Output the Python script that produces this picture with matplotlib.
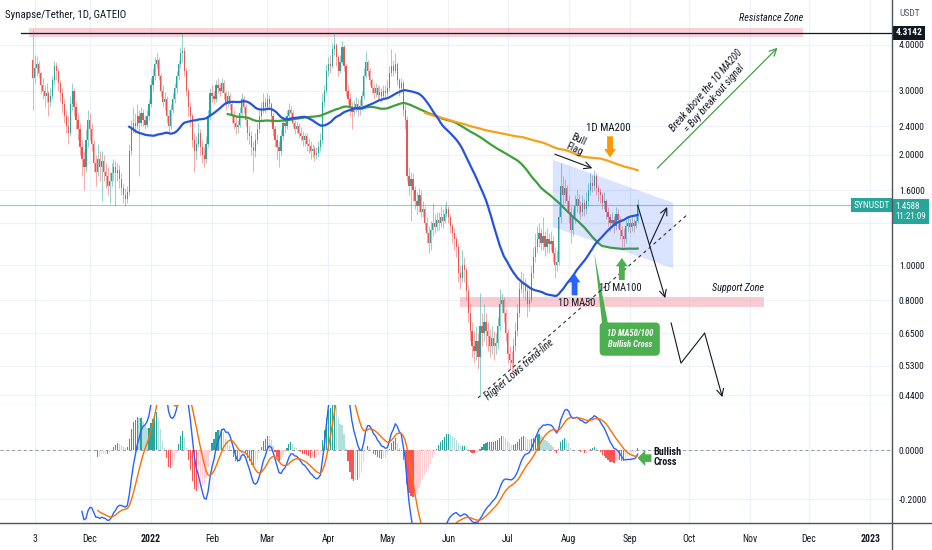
import numpy as np
import pandas as pd
import matplotlib
matplotlib.use('Agg')
import matplotlib.pyplot as plt
import matplotlib.dates as mdates
from matplotlib.patches import Rectangle, Polygon
from matplotlib.ticker import NullLocator, FixedLocator, FixedFormatter
import matplotlib.transforms as mtransforms
from matplotlib.lines import Line2D
from matplotlib import font_manager as fm

_names = {f.name for f in fm.fontManager.ttflist}
_fam = [n for n in ['Roboto Condensed', 'Liberation Sans Narrow', 'Open Sans Condensed', 'Liberation Sans', 'DejaVu Sans'] if n in _names]
plt.rcParams['font.family'] = _fam if _fam else ['DejaVu Sans']

# ---------------- data ----------------
start_date = '2021-11-02'
first_open = 3.64
closes = [
    3.25, 3.45, 3.55, 3.35, 3.10, 3.00, 2.90, 2.95, 2.80, 2.90,
    3.20, 3.50, 3.40, 3.15, 2.95, 2.75, 2.55, 2.40, 2.30, 2.75,
    3.00, 2.70, 2.50, 2.35, 2.10, 1.95, 1.85, 2.20, 2.50, 2.35,
    2.15, 1.90, 1.80, 1.95, 1.85, 1.92, 1.80, 1.75, 1.65, 1.70,
    1.78,
    1.85, 1.78, 1.82, 1.72, 1.62, 1.55, 1.52, 1.58, 2.05, 2.35,
    2.45, 2.40, 2.55, 2.45, 2.60, 2.50, 2.42, 2.55, 2.75, 3.10,
    3.30, 3.55, 3.65, 3.30, 3.00, 2.80, 2.85, 2.55, 2.40, 2.65,
    2.85, 3.05, 3.30, 3.55, 3.80, 3.85, 3.40, 3.00, 2.70, 2.55,
    2.20, 2.05, 2.15, 2.30, 2.10, 2.00, 1.95, 2.15, 2.55, 2.95,
    2.90,
    2.85, 3.10, 3.05, 3.00, 3.15, 2.95, 2.75, 2.90, 2.75, 2.55,
    2.45, 2.38, 2.42, 2.60, 2.85, 2.70, 2.50, 2.30, 2.25, 2.10,
    2.05, 2.20, 2.35, 2.55, 2.65, 2.80, 2.70, 2.85, 2.75, 2.55,
    2.35, 2.20, 2.10, 2.05, 2.25, 2.45, 2.40, 2.55, 2.65, 2.60,
    2.45, 2.35, 2.40, 2.30, 2.25, 2.20, 2.25, 2.15, 2.12, 2.05,
    2.08,
    2.00, 2.02, 2.10, 2.20, 2.80, 3.00, 3.40, 3.55, 3.50, 3.90,
    4.00, 3.70, 3.40, 3.60, 3.95, 3.50, 3.00, 2.85, 2.70, 2.62,
    2.70, 2.75, 2.65, 2.72, 2.90, 3.30, 3.60, 3.40, 3.20, 3.05,
    2.95, 3.05, 2.92, 2.98, 2.90, 3.00, 2.95, 3.05, 3.35, 3.50,
    3.40, 3.55, 3.20, 3.05, 3.15, 2.65, 2.50, 1.75, 1.65, 1.72,
    1.60,
    1.50, 1.45, 1.55, 1.40, 1.42, 1.30, 1.22, 1.15, 1.25, 1.30,
    1.27, 1.33, 1.30, 1.35, 1.32, 1.38, 1.42, 1.35, 1.28, 1.22,
    1.18, 1.12, 0.95, 0.92, 1.00, 0.97, 0.85, 0.74, 0.66, 0.60,
    0.58, 0.62, 0.56, 0.68, 0.65, 0.70, 0.66, 0.64, 0.60, 0.63,
    0.60,
    0.61, 0.68, 0.78, 0.80, 0.74, 0.65, 0.57, 0.55, 0.54, 0.60,
    0.66, 0.74, 0.86, 0.90, 0.88, 0.85, 0.78, 0.80, 0.95, 1.05,
    1.12, 1.18, 1.22, 1.15, 1.20, 1.12, 1.18, 1.14, 1.16, 1.08,
    1.00, 1.02, 1.35, 1.65, 1.55, 1.62, 1.50, 1.40, 1.25, 1.35,
    1.45,
    1.52, 1.45, 1.40, 1.48, 1.42, 1.50, 1.60, 1.68, 1.65, 1.75,
    1.62, 1.58, 1.55, 1.48, 1.50, 1.40, 1.35, 1.30, 1.33, 1.28,
    1.38, 1.33, 1.25, 1.20, 1.18, 1.28, 1.30, 1.27, 1.30, 1.28,
    1.32, 1.4588,
]
highs = [
    4.40, 3.75, 3.72, 3.62, 3.40, 3.25, 3.10, 3.15, 3.00, 3.05,
    3.30, 3.62, 3.60, 3.45, 3.20, 3.05, 2.85, 2.65, 2.55, 2.90,
    3.15, 3.05, 2.80, 2.60, 2.45, 2.20, 2.05, 2.35, 2.65, 2.60,
    2.45, 2.20, 2.00, 2.15, 2.05, 2.05, 2.00, 1.90, 1.85, 1.80,
    1.90,
    1.95, 1.92, 1.90, 1.88, 1.78, 1.68, 1.62, 1.65, 2.15, 2.50,
    2.70, 2.60, 2.75, 2.65, 2.70, 2.68, 2.58, 2.65, 2.85, 3.25,
    3.45, 3.70, 3.80, 3.70, 3.35, 3.10, 2.98, 2.90, 2.65, 2.75,
    2.95, 3.15, 3.40, 3.65, 3.95, 4.31, 3.95, 3.45, 3.05, 2.80,
    2.60, 2.30, 2.25, 2.45, 2.35, 2.20, 2.10, 2.25, 2.65, 3.05,
    3.10,
    3.00, 3.20, 3.25, 3.15, 3.25, 3.20, 3.00, 3.00, 2.95, 2.80,
    2.65, 2.55, 2.50, 2.70, 2.95, 2.90, 2.75, 2.55, 2.40, 2.32,
    2.18, 2.30, 2.45, 2.65, 2.80, 2.95, 2.88, 2.95, 2.92, 2.80,
    2.60, 2.40, 2.28, 2.18, 2.35, 2.55, 2.55, 2.65, 2.78, 2.72,
    2.65, 2.50, 2.48, 2.45, 2.38, 2.32, 2.30, 2.30, 2.22, 2.18,
    2.15,
    2.12, 2.10, 2.18, 2.30, 2.95, 3.10, 3.55, 3.70, 3.75, 4.05,
    4.35, 4.05, 3.75, 3.75, 4.10, 4.00, 3.55, 3.10, 2.95, 2.80,
    2.82, 2.88, 2.85, 2.85, 3.00, 3.45, 3.85, 3.65, 3.45, 3.25,
    3.12, 3.15, 3.10, 3.08, 3.05, 3.10, 3.10, 3.20, 3.50, 3.90,
    3.65, 3.80, 3.60, 3.25, 3.25, 3.20, 2.75, 2.55, 1.85, 1.80,
    1.78,
    1.65, 1.58, 1.62, 1.60, 1.50, 1.45, 1.35, 1.28, 1.32, 1.48,
    1.38, 1.40, 1.40, 1.45, 1.42, 1.45, 1.50, 1.45, 1.38, 1.30,
    1.26, 1.20, 1.15, 1.00, 1.10, 1.05, 0.99, 0.88, 0.78, 0.70,
    0.66, 0.68, 0.65, 0.84, 0.74, 0.78, 0.74, 0.70, 0.67, 0.68,
    0.66,
    0.65, 0.72, 0.86, 0.84, 0.82, 0.76, 0.67, 0.60, 0.58, 0.63,
    0.70, 0.78, 0.90, 0.96, 0.95, 0.92, 0.88, 0.86, 1.00, 1.12,
    1.22, 1.28, 1.30, 1.26, 1.35, 1.24, 1.26, 1.22, 1.24, 1.20,
    1.12, 1.10, 1.45, 1.90, 1.75, 1.72, 1.66, 1.55, 1.45, 1.42,
    1.55,
    1.60, 1.56, 1.50, 1.55, 1.52, 1.58, 1.68, 1.78, 1.76, 1.82,
    1.78, 1.66, 1.62, 1.58, 1.58, 1.52, 1.44, 1.38, 1.40, 1.36,
    1.44, 1.42, 1.36, 1.28, 1.26, 1.33, 1.36, 1.34, 1.35, 1.34,
    1.38, 1.52,
]
lows = [
    2.66, 3.15, 3.30, 3.25, 2.95, 2.85, 2.70, 2.80, 2.55, 2.70,
    2.85, 3.10, 3.20, 3.00, 2.80, 2.60, 2.45, 2.30, 2.15, 2.25,
    2.65, 2.55, 2.35, 2.20, 2.00, 1.75, 1.60, 1.80, 2.10, 2.20,
    2.05, 1.80, 1.65, 1.75, 1.70, 1.50, 1.70, 1.62, 1.55, 1.48,
    1.65,
    1.70, 1.45, 1.70, 1.62, 1.55, 1.48, 1.45, 1.48, 1.55, 2.00,
    2.30, 2.30, 2.35, 1.75, 2.40, 2.40, 2.35, 2.38, 2.50, 2.70,
    3.00, 3.20, 3.45, 3.20, 2.90, 2.70, 2.65, 2.45, 2.30, 2.35,
    2.60, 2.78, 2.95, 3.20, 3.45, 3.60, 3.30, 2.90, 2.55, 2.40,
    2.10, 1.80, 1.95, 2.10, 2.00, 1.90, 1.85, 1.90, 2.10, 2.50,
    2.80,
    2.75, 2.80, 2.95, 2.90, 2.95, 2.85, 2.65, 2.70, 2.65, 2.45,
    2.35, 2.28, 2.30, 2.38, 2.55, 2.60, 2.40, 2.20, 2.15, 2.00,
    1.80, 1.98, 2.15, 2.30, 2.50, 2.60, 2.60, 2.65, 2.65, 2.45,
    2.25, 2.10, 1.95, 1.85, 2.00, 2.20, 2.30, 2.35, 2.50, 2.50,
    2.38, 2.28, 2.30, 2.22, 2.18, 2.12, 2.12, 2.05, 2.02, 1.95,
    1.98,
    1.92, 1.95, 1.98, 2.05, 2.15, 2.70, 2.95, 3.30, 3.35, 3.45,
    3.75, 3.50, 3.30, 3.35, 3.55, 3.40, 2.90, 2.75, 2.55, 2.35,
    2.55, 2.62, 2.55, 2.58, 2.65, 2.85, 3.25, 3.30, 3.10, 2.95,
    2.85, 2.88, 2.85, 2.85, 2.80, 2.85, 2.88, 2.90, 3.00, 3.30,
    3.30, 3.35, 3.10, 2.90, 2.95, 2.55, 2.35, 1.70, 1.55, 1.32,
    1.50,
    1.42, 1.38, 1.40, 1.35, 1.35, 1.25, 1.15, 1.08, 1.10, 1.20,
    1.22, 1.24, 1.25, 1.27, 1.26, 1.30, 1.35, 1.30, 1.22, 1.15,
    1.10, 1.05, 0.90, 0.86, 0.90, 0.90, 0.80, 0.70, 0.62, 0.56,
    0.54, 0.55, 0.52, 0.44, 0.60, 0.62, 0.60, 0.58, 0.56, 0.57,
    0.55,
    0.57, 0.59, 0.66, 0.74, 0.70, 0.62, 0.54, 0.52, 0.505, 0.52,
    0.58, 0.64, 0.72, 0.84, 0.82, 0.80, 0.72, 0.75, 0.79, 0.92,
    1.02, 1.08, 1.12, 1.10, 1.10, 1.06, 1.08, 1.08, 1.10, 1.02,
    0.92, 0.96, 1.00, 1.30, 1.45, 1.48, 1.42, 1.30, 1.15, 1.20,
    1.30,
    1.40, 1.38, 1.34, 1.36, 1.36, 1.38, 1.45, 1.55, 1.58, 1.60,
    1.55, 1.50, 1.48, 1.42, 1.42, 1.34, 1.28, 1.24, 1.26, 1.22,
    1.25, 1.26, 1.18, 1.12, 1.12, 1.15, 1.24, 1.22, 1.24, 1.23,
    1.26, 1.30,
]

price_ticks = [4.0, 3.0, 2.4, 2.0, 1.6, 1.3, 1.0, 0.8, 0.65, 0.53, 0.44]
price_labels = ['4.0000', '3.0000', '2.4000', '2.0000', '1.6000', '', '1.0000',
                '0.8000', '0.6500', '0.5300', '0.4400']
macd_ticks = [0.0, -0.2]
macd_labels = ['0.0000', '-0.2000']
month_dates = ['2021-11-03', '2021-12-01', '2022-01-01', '2022-02-01', '2022-03-01',
               '2022-04-01', '2022-05-01', '2022-06-01', '2022-07-01', '2022-08-01',
               '2022-09-01', '2022-10-01', '2022-11-01', '2022-12-01', '2023-01-01']
month_labels = ['3', 'Dec', '2022', 'Feb', 'Mar', 'Apr', 'May', 'Jun', 'Jul', 'Aug',
                'Sep', 'Oct', 'Nov', 'Dec', '2023']
last_price = 1.4588
resistance_level = 4.3142
resistance_zone = ['2021-10-31', '2022-11-28', 4.21, 4.45]
support_zone = ['2022-06-07', '2022-11-08', 0.767, 0.817]
flag_dates = ['2022-07-24', '2022-09-23', '2022-09-23', '2022-07-24']
flag_prices = [1.94, 1.48, 0.98, 1.27]
trend_dates = ['2022-06-16', '2022-09-30']
trend_prices = [0.433, 1.37]
zigzag_dates = ['2022-09-22', '2022-09-27', '2022-10-09', '2022-10-18']
zigzag_prices = [0.694, 0.539, 0.651, 0.435]

# ---------------- figure ----------------
W, H = 932, 550
fig = plt.figure(figsize=(W / 100, H / 100), dpi=100)
fig.patch.set_facecolor('white')
ax = fig.add_axes([0, 1 - 405 / H, 892 / W, 405 / H])
axm = fig.add_axes([0, 1 - 523 / H, 892 / W, 118 / H], sharex=ax)

def D(s):
    return mdates.date2num(pd.Timestamp(s))

dates = pd.date_range(start_date, periods=len(closes), freq='D')
x = mdates.date2num(dates)
c = np.array(closes)
o = np.array([first_open] + closes[:-1])
h = np.array(highs)
l = np.array(lows)
up = c >= o
UP, DN = '#26A69A', '#EF5350'
col = np.where(up, UP, DN)

jan1 = D('2022-01-01')
ax.set_xlim(jan1 - 76.6, jan1 + 376.1)
ax.set_yscale('log')
ax.set_ylim(0.414, 5.31)

# grid
month_nums = [D(s) for s in month_dates]
for a in (ax, axm):
    for mx in month_nums:
        a.axvline(mx, color='#eef1f7', lw=0.9, zorder=0)
for p in price_ticks:
    ax.axhline(p, color='#eef1f7', lw=0.9, zorder=0)
for p in macd_ticks:
    axm.axhline(p, color='#eef1f7', lw=0.9, zorder=0)

# zones
r0, r1, rlo, rhi = resistance_zone
ax.add_patch(Rectangle((D(r0), rlo), D(r1) - D(r0), rhi - rlo, fc='#f5a3b0', alpha=0.5, ec='none', zorder=1))
s0, s1, slo, shi = support_zone
ax.add_patch(Rectangle((D(s0), slo), D(s1) - D(s0), shi - slo, fc='#f5a3b0', alpha=0.55, ec='none', zorder=1))

# horizontal price lines
ax.axhline(last_price, color='#8fd0c8', lw=0.8, zorder=1)
ax.axhline(resistance_level, xmin=21 / 892, xmax=1, color='#131722', lw=0.9, zorder=2)

# candles
ax.vlines(x, l, h, colors=col, lw=0.7, alpha=0.5, zorder=2)
bot = np.minimum(o, c)
hgt = np.maximum(np.abs(c - o), 0.004)
ax.bar(x, hgt, bottom=bot, width=0.62, color=col, linewidth=0, zorder=3)

# moving averages
s = pd.Series(closes)
ma50 = s.rolling(50).mean()
ma100 = s.rolling(100).mean()
ma200 = s.rolling(200).mean()
ax.plot(x, ma100, color='#3f9f3a', lw=1.6, zorder=4)
ax.plot(x, ma200, color='#F7A01A', lw=1.6, zorder=4)
ax.plot(x, ma50, color='#2453E0', lw=1.6, zorder=5)

# bull flag
ax.add_patch(Polygon(list(zip([D(d) for d in flag_dates], flag_prices)), closed=True,
                     fc=(0.16, 0.38, 1.0, 0.17), ec='none', zorder=6))

def line_arrow(a, p0, p1, color='#131722', lw=0.8):
    a.annotate('', xy=(D(p1[0]), p1[1]), xytext=(D(p0[0]), p0[1]),
               arrowprops=dict(arrowstyle='->,head_width=0.25,head_length=0.5', color=color, lw=lw,
                               shrinkA=0, shrinkB=0), zorder=7, annotation_clip=False)

def block_arrow(a, p0, p1, color, hw=0.85, hl=0.6, tw=0.42):
    a.annotate('', xy=(D(p1[0]), p1[1]), xytext=(D(p0[0]), p0[1]),
               arrowprops=dict(arrowstyle=f'simple,head_width={hw},head_length={hl},tail_width={tw}',
                               color=color, lw=0, shrinkA=0, shrinkB=0), zorder=8, annotation_clip=False)

TXT = '#131722'
# bull flag label + arrow
line_arrow(ax, ('2022-07-25', 2.01), ('2022-08-13', 1.84))
ax.text(D('2022-08-05'), 2.14, 'Bull\nFlag', rotation=-25, ha='center', va='center', fontsize=7.5,
        color=TXT, rotation_mode='anchor', linespacing=1.0, zorder=8)
# MA200
ax.text(D('2022-08-21'), 2.37, '1D MA200', ha='center', va='center', fontsize=7.8, color=TXT, zorder=8)
block_arrow(ax, ('2022-08-22', 2.25), ('2022-08-22', 1.97), '#FF9800')
# breakout
line_arrow(ax, ('2022-09-15', 1.84), ('2022-11-15', 3.93), color='#43A047', lw=0.9)
ax.text(D('2022-10-12'), 2.93, 'Break above the 1D MA200\n= Buy break-out signal', rotation=49,
        ha='center', va='center', fontsize=7.3, style='italic', color=TXT, rotation_mode='anchor',
        linespacing=1.1, zorder=8)
ax.text(D('2022-11-28'), 4.74, 'Resistance Zone', ha='right', va='center', fontsize=7.3,
        style='italic', color=TXT, zorder=8)
ax.text(D('2022-10-26'), 0.865, 'Support Zone', ha='center', va='center', fontsize=7.3,
        style='italic', color=TXT, zorder=8)
# MA50 / MA100 labels
ax.text(D('2022-08-05'), 0.787, '1D MA50', ha='center', va='center', fontsize=7.5, color=TXT, zorder=8)
block_arrow(ax, ('2022-08-04', 0.826), ('2022-08-04', 0.945), '#2962FF')
ax.text(D('2022-08-27'), 0.865, '1D MA100', ha='center', va='center', fontsize=7.5, color=TXT, zorder=8)
block_arrow(ax, ('2022-08-28', 0.91), ('2022-08-28', 1.045), '#4CAF50')
# callout
ax.add_patch(Polygon([(D('2022-08-14'), 1.079), (D('2022-08-18'), 0.69), (D('2022-08-21'), 0.69)],
                     closed=True, fc='#4CAF50', ec='none', zorder=7))
ax.text(D('2022-09-01'), 0.627, '1D MA50/100\nBullish Cross', ha='center', va='center', fontsize=6.2,
        style='italic', weight='bold', color='white', linespacing=1.2, zorder=8,
        bbox=dict(boxstyle='round,pad=0.8,rounding_size=0.5', fc='#4CAF50', ec='none'))
# projections
line_arrow(ax, ('2022-09-05', 1.459), ('2022-09-19', 0.812))
line_arrow(ax, ('2022-09-11', 1.134), ('2022-09-20', 1.441))
zx = [D(d) for d in zigzag_dates]
ax.plot(zx[:3], zigzag_prices[:3], color=TXT, lw=0.8, zorder=7)
line_arrow(ax, (zigzag_dates[2], zigzag_prices[2]), (zigzag_dates[3], zigzag_prices[3]))
# trend line
ax.plot([D(d) for d in trend_dates], trend_prices, color='#333333', lw=0.8, ls=(0, (3, 3)), zorder=7)
ax.text(D('2022-07-07'), 0.516, 'Higher Lows trend-line', rotation=41, ha='center', va='center',
        fontsize=7.3, style='italic', color=TXT, rotation_mode='anchor', zorder=8)

# title
fig.text(5 / W, 1 - 15 / H, 'Synapse/Tether, 1D, GATEIO', fontsize=7.8, color=TXT, va='center', ha='left')

# price axis
ax.yaxis.tick_right()
ax.yaxis.set_major_locator(FixedLocator(price_ticks))
ax.yaxis.set_major_formatter(FixedFormatter(price_labels))
ax.yaxis.set_minor_locator(NullLocator())
ax.tick_params(axis='y', length=0, pad=5, labelsize=6.8, labelcolor=TXT)
ax.tick_params(axis='x', length=0, labelbottom=False)
for sp in ['top', 'left', 'right']:
    ax.spines[sp].set_visible(False)
ax.spines['bottom'].set_color('#d6d9e0')
ax.spines['bottom'].set_linewidth(0.9)
fig.text(899 / W, 1 - 13 / H, 'USDT', fontsize=6.8, color='#555866', va='center', ha='left')

bt = mtransforms.blended_transform_factory(ax.transAxes, ax.transData)
ax.text(1.004, resistance_level, '4.3142', transform=bt, ha='left', va='center', fontsize=6.8,
        color='white', weight='bold', clip_on=False, zorder=20,
        bbox=dict(boxstyle='square,pad=0.25', fc='#131722', ec='none'))
ax.text(1.004, 1.40, '1.4588\n11:21:09', transform=bt, ha='left', va='center', fontsize=6.5,
        color='white', clip_on=False, zorder=20, linespacing=1.15,
        bbox=dict(boxstyle='square,pad=0.3', fc='#26A69A', ec='none'))
ax.text(0.998, last_price, 'SYNUSDT', transform=bt, ha='right', va='center', fontsize=6.8,
        color='white', clip_on=False, zorder=20,
        bbox=dict(boxstyle='square,pad=0.28', fc='#26A69A', ec='none'))

# ---------------- MACD ----------------
ema12 = s.ewm(span=12, adjust=False).mean()
ema26 = s.ewm(span=26, adjust=False).mean()
macd = ema12 - ema26
signal = macd.ewm(span=9, adjust=False).mean()
hist = macd - signal
macd_v = macd.where(s.index >= 25)
sig_v = signal.where(s.index >= 33)
hist_v = hist.where(s.index >= 33)
prev = hist_v.shift(1)
hcol = []
for hv, pv in zip(hist_v, prev):
    if np.isnan(hv):
        hcol.append('none')
    elif hv >= 0:
        hcol.append('#26A69A' if (np.isnan(pv) or hv > pv) else '#B2DFDB')
    else:
        hcol.append('#FFCDD2' if (not np.isnan(pv) and hv > pv) else '#FF5252')
axm.bar(x, hist_v.fillna(0), width=0.62, color=hcol, linewidth=0, zorder=2)
axm.plot(x, macd_v, color='#2962FF', lw=1.0, zorder=3)
axm.plot(x, sig_v, color='#FF6D00', lw=1.0, zorder=3)
axm.axhline(0, color='#9598a1', lw=0.7, ls=(0, (3, 3)), zorder=1)
axm.set_ylim(-0.298, 0.184)
axm.yaxis.tick_right()
axm.yaxis.set_major_locator(FixedLocator(macd_ticks))
axm.yaxis.set_major_formatter(FixedFormatter(macd_labels))
axm.tick_params(axis='y', length=0, pad=5, labelsize=6.8, labelcolor=TXT)
axm.xaxis.set_major_locator(FixedLocator(month_nums))
axm.xaxis.set_major_formatter(FixedFormatter(month_labels))
axm.tick_params(axis='x', length=0, pad=8, labelsize=7.0, labelcolor=TXT)
for lab in axm.get_xticklabels():
    if lab.get_text() in ('2022', '2023'):
        lab.set_fontweight('bold')
for sp in ['top', 'left', 'right', 'bottom']:
    axm.spines[sp].set_visible(False)
axm.text(D('2022-09-13'), -0.029, 'Bullish\nCross', ha='left', va='center', fontsize=7.3,
         weight='bold', color=TXT, linespacing=1.05, zorder=8)
block_arrow(axm, ('2022-09-12', -0.033), ('2022-09-05', -0.033), '#4CAF50', hw=1.15, hl=0.55, tw=0.55)

# frame lines
fig.add_artist(Line2D([892 / W, 892 / W], [0, 1], color='#50535e', lw=1.0))
fig.add_artist(Line2D([0, 1], [1 - 523 / H, 1 - 523 / H], color='#50535e', lw=1.0))

fig.savefig('out.png', dpi=100, facecolor='white')
